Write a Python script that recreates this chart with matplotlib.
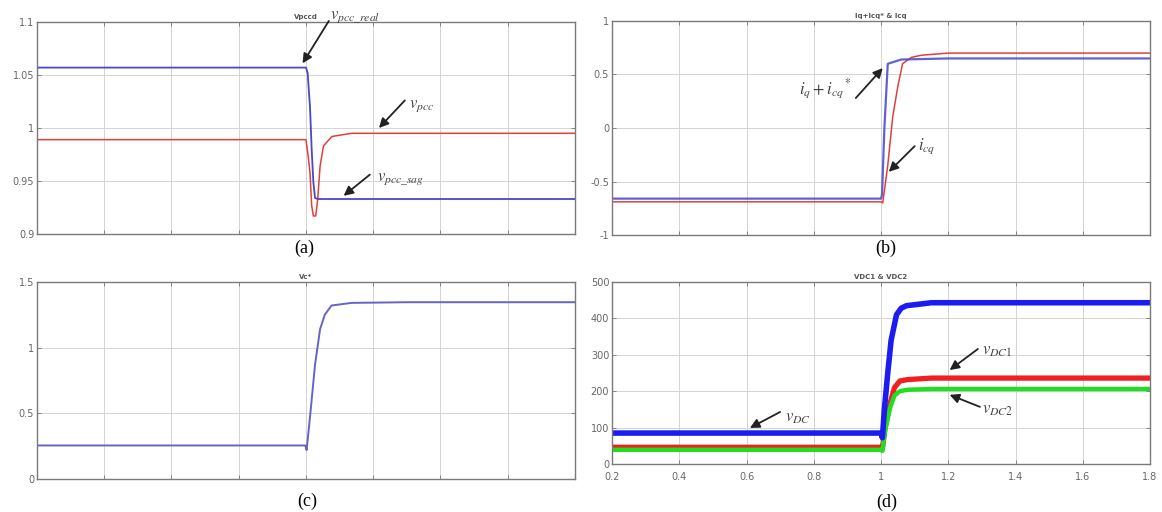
import numpy as np
import matplotlib
matplotlib.use('Agg')
import matplotlib.pyplot as plt

plt.rcParams['mathtext.fontset'] = 'stix'
plt.rcParams['font.family'] = 'DejaVu Sans'

# =============================================================================
# Data
# =============================================================================

# (a) Vpcc
t_a_real = [0.2, 1.0, 1.005, 1.012, 1.017, 1.022, 1.027, 1.035, 1.8]
v_pcc_real = [1.057, 1.057, 1.052, 1.020, 0.980, 0.949, 0.934, 0.933, 0.933]
t_a_pcc = [0.2, 1.0, 1.006, 1.012, 1.017, 1.022, 1.029, 1.035, 1.042, 1.052,
           1.077, 1.136, 1.8]
v_pcc = [0.989, 0.989, 0.975, 0.958, 0.927, 0.917, 0.917, 0.933, 0.964, 0.983,
         0.992, 0.995, 0.995]

# (b) Iq + Icq* and Icq
t_b_ref = [0.2, 1.0, 1.003, 1.010, 1.020, 1.060, 1.2, 1.8]
i_ref = [-0.66, -0.66, -0.62, 0.0, 0.60, 0.64, 0.65, 0.65]
t_b_cq = [0.2, 1.0, 1.005, 1.020, 1.035, 1.050, 1.064, 1.090, 1.120, 1.2, 1.8]
i_cq = [-0.69, -0.69, -0.70, -0.35, 0.11, 0.39, 0.60, 0.66, 0.68, 0.70, 0.70]

# (c) Vc*
t_c = [0.2, 0.998, 1.002, 1.012, 1.027, 1.042, 1.056, 1.076, 1.136, 1.3, 1.8]
v_c = [0.255, 0.255, 0.22, 0.47, 0.87, 1.14, 1.25, 1.32, 1.34, 1.345, 1.345]

# (d) DC link voltages
t_d_dc = [0.2, 1.0, 1.004, 1.010, 1.020, 1.030, 1.046, 1.060, 1.076, 1.15, 1.8]
v_dc = [85, 85, 72, 150, 250, 340, 410, 428, 435, 443, 443]
t_d_12 = [0.2, 1.0, 1.004, 1.012, 1.027, 1.040, 1.056, 1.080, 1.15, 1.8]
v_dc1 = [46, 46, 42, 100, 167, 210, 228, 232, 236, 236]
v_dc2 = [39, 39, 36, 90, 155, 188, 200, 204, 206, 206]

x_ticks = [0.2, 0.4, 0.6, 0.8, 1.0, 1.2, 1.4, 1.6, 1.8]
x_tick_labels = ['0.2', '0.4', '0.6', '0.8', '1', '1.2', '1.4', '1.6', '1.8']

# =============================================================================
# Plotting helpers
# =============================================================================

def scope_axes(fig, rect, ylim, yticks, yticklabels, title, show_xlabels=False):
    ax = fig.add_axes(rect)
    ax.set_xlim(0.2, 1.8)
    ax.set_ylim(*ylim)
    ax.set_xticks(x_ticks)
    ax.set_yticks(yticks)
    ax.set_yticklabels(yticklabels)
    if show_xlabels:
        ax.set_xticklabels(x_tick_labels)
    else:
        ax.set_xticklabels([])
    ax.tick_params(direction='in', length=3, width=0.6, colors='#777777',
                   labelcolor='#666666', labelsize=7, top=True, right=True, pad=2)
    ax.tick_params(axis='x', pad=6)
    ax.grid(True, color='#d4d4d4', linewidth=0.7)
    ax.set_axisbelow(True)
    for sp in ax.spines.values():
        sp.set_color('#7a7a7a')
        sp.set_linewidth(1.0)
    ax.set_title(title, fontsize=5, color='#555555', fontweight='bold', pad=2)
    return ax


def arrow(ax, text, xy, xytext, textpos):
    ax.annotate('', xy=xy, xytext=xytext, annotation_clip=False,
                arrowprops=dict(arrowstyle='-|>', color='#222222', lw=1.3,
                                mutation_scale=14, shrinkA=0, shrinkB=0))
    ax.text(textpos[0], textpos[1], text, fontsize=12, color='#444444',
            ha='left', va='center', clip_on=False)


fig = plt.figure(figsize=(11.62, 5.12), dpi=100)

# (a)
ax1 = scope_axes(fig, [0.0318, 0.543, 0.463, 0.414], (0.9, 1.1),
                 [0.9, 0.95, 1.0, 1.05, 1.1], ['0.9', '0.95', '1', '1.05', '1.1'],
                 'Vpccd')
ax1.plot(t_a_pcc, v_pcc, color='#e0403a', lw=1.1)
ax1.plot(t_a_real, v_pcc_real, color='#4848c8', lw=1.3)
arrow(ax1, r'$v_{pcc\_real}$', (0.990, 1.061), (1.068, 1.101), (1.072, 1.106))
arrow(ax1, r'$v_{pcc}$', (1.217, 1.0), (1.294, 1.026), (1.305, 1.022))
arrow(ax1, r'$v_{pcc\_sag}$', (1.112, 0.936), (1.19, 0.956), (1.212, 0.953))
fig.text(0.262, 0.515, '(a)', fontsize=13, family='Liberation Serif',
         ha='center', va='center')

# (b)
ax2 = scope_axes(fig, [0.5267, 0.541, 0.463, 0.418], (-1, 1),
                 [-1, -0.5, 0, 0.5, 1], ['-1', '-0.5', '0', '0.5', '1'],
                 'Iq+Icq* & Icq')
ax2.plot(t_b_cq, i_cq, color='#e0403a', lw=1.1)
ax2.plot(t_b_ref, i_ref, color='#5050d0', lw=1.6, alpha=0.9)
arrow(ax2, r'$i_q+i_{cq}{}^*$', (1.005, 0.56), (0.925, 0.28), (0.755, 0.36))
arrow(ax2, r'$i_{cq}$', (1.023, -0.41), (1.10, -0.17), (1.11, -0.17))
fig.text(0.762, 0.515, '(b)', fontsize=13, family='Liberation Serif',
         ha='center', va='center')

# (c)
ax3 = scope_axes(fig, [0.0318, 0.0645, 0.463, 0.385], (0, 1.5),
                 [0, 0.5, 1, 1.5], ['0', '0.5', '1', '1.5'], 'Vc*')
ax3.plot(t_c, v_c, color='#6464c8', lw=1.4)
fig.text(0.264, 0.02, '(c)', fontsize=13, family='Liberation Serif',
         ha='center', va='center')

# (d)
ax4 = scope_axes(fig, [0.5267, 0.09375, 0.463, 0.3555], (0, 500),
                 [0, 100, 200, 300, 400, 500],
                 ['0', '100', '200', '300', '400', '500'],
                 'VDC1 & VDC2', show_xlabels=True)
ax4.plot(t_d_12, v_dc1, color='#f02020', lw=3.8)
ax4.plot(t_d_12, v_dc2, color='#22dd22', lw=3.2)
ax4.plot(t_d_dc, v_dc, color='#1c1cf0', lw=4.0)
arrow(ax4, r'$v_{DC}$', (0.61, 99), (0.70, 143), (0.715, 128))
arrow(ax4, r'$v_{DC\mathit{1}}$', (1.204, 258), (1.288, 316), (1.30, 312))
arrow(ax4, r'$v_{DC\mathit{2}}$', (1.204, 190), (1.294, 157), (1.30, 150))
fig.text(0.763, 0.018, '(d)', fontsize=13, family='Liberation Serif',
         ha='center', va='center')

fig.savefig('out.png', dpi=100)
